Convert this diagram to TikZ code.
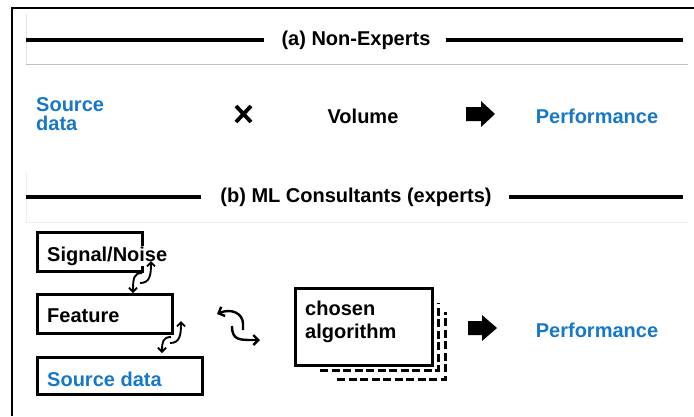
\documentclass[tikz,border=0pt]{standalone}
\usepackage{fontspec}
\setmainfont{Liberation Sans}
\usetikzlibrary{arrows.meta}
\definecolor{srcblue}{RGB}{24,120,200}
\definecolor{faint}{RGB}{228,228,228}
\tikzset{
  lbl/.style={font=\bfseries\fontsize{20}{22}\selectfont, inner sep=0pt},
  bluelbl/.style={lbl, text=srcblue},
  hdr/.style={font=\bfseries\fontsize{20}{22}\selectfont, inner sep=0pt},
  rule/.style={line width=3.2pt},
  stepbox/.style={draw, line width=3pt, minimum height=0pt},
  fatarrow/.style={fill=black},
  smallcurl/.style={line width=1.9pt, -{Straight Barb[length=4pt,width=8pt]}},
  bigcurl/.style={line width=2.4pt, -{Straight Barb[length=5pt,width=10pt]}},
  shadow/.style={line width=3pt, dash pattern=on 8pt off 3.5pt}
}
\begin{document}
\begin{tikzpicture}[x=1pt,y=-1pt]
\useasboundingbox (0,0) rectangle (694,416);
% frame
\draw[line width=2pt] (12,416) -- (12,8) -- (694,8);
% faint header panels
\draw[faint, line width=0.6pt] (26,64) -- (26,14);
\draw[black!25, line width=1pt] (26,64) -- (688,64);
\draw[faint!60, line width=0.6pt] (26,222) -- (26,172);
\draw[faint!60, line width=0.8pt] (26,222) -- (688,222);
% header (a)
\node[hdr] (ha) at (356,40) {(a) Non-Experts};
\coordinate (hal) at (26,40);
\coordinate (har) at (683,40);
\draw[rule] (hal) -- ([xshift=-17pt]ha.west |- hal);
\draw[rule] ([xshift=15pt]ha.east |- har) -- (har);
% row (a)
\node[bluelbl, align=left, anchor=west] (srca) at (36,114) {Source\\[-3pt]data};
\draw[line width=3.8pt] (236,106) -- (251,122) (236,122) -- (251,106);
\coordinate (xmark) at (243,114);
\node[lbl] (vol) at (363,116) {Volume};
\fill[fatarrow] (466,107) -- (481,107) -- (481,101) -- (495,114) -- (481,127) -- (481,121) -- (466,121) -- cycle;
\node[bluelbl] (perfa) at (597,116) {Performance};
% header (b)
\node[hdr] (hb) at (356,197) {(b) ML Consultants (experts)};
\coordinate (hbl) at (26,197);
\coordinate (hbr) at (683,197);
\draw[rule] (hbl) -- ([xshift=-19pt]hb.west |- hbl);
\draw[rule] ([xshift=17pt]hb.east |- hbr) -- (hbr);
% boxes
\draw[stepbox] (37,232) rectangle (142,271);
\node[lbl, anchor=west, fill=white, inner sep=1pt] (sig) at (46,256) {Signal/Noise};
\draw[stepbox] (37,294) rectangle (172,333);
\node[lbl, anchor=west] (feat) at (47,316) {Feature};
\draw[stepbox] (37,357) rectangle (202,394);
\node[bluelbl, anchor=west] (srcb) at (47,379) {Source data};
% small curly arrows
\draw[smallcurl] (142,273) .. controls (134,273) and (133,278) .. (133,293);
\draw[smallcurl] (140,283) .. controls (150,283) and (151,275) .. (151,261);
\draw[smallcurl] (171,337) .. controls (163,337) and (162,342) .. (162,353);
\draw[smallcurl] (170,343) .. controls (180,343) and (181,335) .. (181,321);
% big swap arrows
\draw[bigcurl] (243,330) -- (243,324) .. controls (243,313) and (231,308) .. (217,314);
\draw[bigcurl] (232,326) .. controls (232,341) and (240,340) .. (260,340);
% chosen algorithm
\draw[shadow] (337,379) -- (445,379) -- (445,312);
\draw[shadow] (320,370) -- (438,370) -- (438,303);
\draw[stepbox, fill=white] (295,288) rectangle (432,365);
\node[lbl, anchor=west, align=left] (algo) at (305,322) {chosen\\[1pt]algorithm};
\fill[fatarrow] (468,321) -- (482,321) -- (482,315) -- (497,328) -- (482,341) -- (482,335) -- (468,335) -- cycle;
\node[bluelbl] (perfb) at (597,330) {Performance};
\end{tikzpicture}
\end{document}
